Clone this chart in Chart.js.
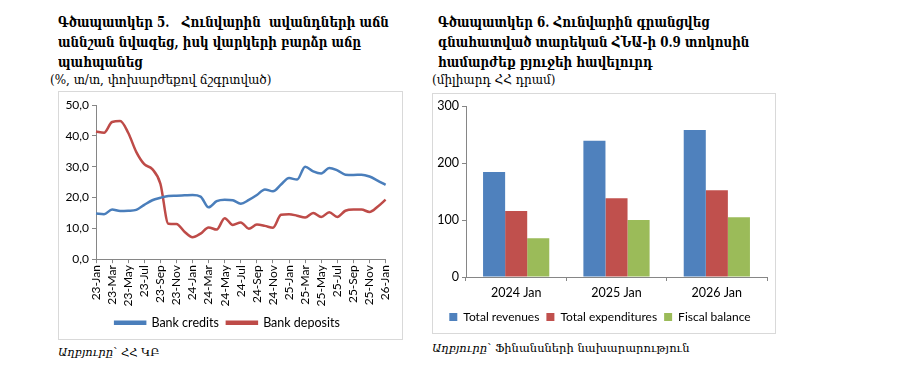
<!DOCTYPE html>
<html>
<head>
<meta charset="utf-8">
<script src="https://cdn.jsdelivr.net/npm/chart.js@4.4.1/dist/chart.umd.min.js"></script>
<style>
  body { margin: 0; width: 900px; height: 388px; background: #fff; position: relative; overflow: hidden; color: #000; }
  .title { position: absolute; font-family: "DejaVu Serif", serif; font-weight: bold; font-size: 14px; line-height: 20px; white-space: nowrap; transform: scaleX(0.85); transform-origin: left top; }
  .sub { position: absolute; font-family: "DejaVu Serif", serif; font-size: 12px; white-space: nowrap; }
  .box { position: absolute; border: 1px solid #d9d9d9; box-sizing: border-box; }
  .box canvas { position: absolute; left: 0; top: 0; }
  .src { position: absolute; font-family: "DejaVu Serif", serif; font-size: 11.5px; white-space: nowrap; }
</style>
</head>
<body>

<div class="title" style="left:58px; top:12px;">Գծապատկեր 5.&nbsp;&nbsp; Հունվարին&nbsp; ավանդների աճն<br>աննշան նվազեց, իսկ վարկերի բարձր աճը<br>պահպանեց</div>
<div class="sub" style="left:50px; top:73px;">(%, տ/տ, փոխարժեքով ճշգրտված)</div>
<div class="box" style="left:58px; top:91px; width:345px; height:249px;"><canvas id="lineChart" width="343" height="247"></canvas></div>
<div class="src" style="left:58px; top:345px;"><i>Աղբյուրը</i>՝ ՀՀ ԿԲ</div>

<div class="title" style="left:438px; top:12px;">Գծապատկեր 6. Հունվարին գրանցվեց<br>գնահատված տարեկան ՀՆԱ-ի 0.9 տոկոսին<br>համարժեք բյուջեի հավելուրդ</div>
<div class="sub" style="left:432px; top:73px;">(միլիարդ ՀՀ դրամ)</div>
<div class="box" style="left:432px; top:93px; width:344px; height:241px;"><canvas id="barChart" width="342" height="239"></canvas></div>
<div class="src" style="left:432px; top:341px;"><i>Աղբյուրը</i>՝ Ֆինանսների նախարարություն</div>

<script>
// monthly labels, 23-Jan .. 26-Jan
const months = [
  '23-Jan','23-Feb','23-Mar','23-Apr','23-May','23-Jun','23-Jul','23-Aug','23-Sep','23-Oct','23-Nov','23-Dec',
  '24-Jan','24-Feb','24-Mar','24-Apr','24-May','24-Jun','24-Jul','24-Aug','24-Sep','24-Oct','24-Nov','24-Dec',
  '25-Jan','25-Feb','25-Mar','25-Apr','25-May','25-Jun','25-Jul','25-Aug','25-Sep','25-Oct','25-Nov','25-Dec',
  '26-Jan'
];
const bankCredits = [
  14.8, 14.6, 16.1, 15.6, 15.7, 16.0, 17.6, 19.1, 19.9, 20.5, 20.6, 20.7,
  20.8, 20.3, 16.8, 18.8, 19.3, 19.1, 18.0, 19.2, 20.8, 22.6, 22.0, 24.2,
  26.3, 25.8, 30.0, 28.5, 27.8, 29.6, 28.8, 27.4, 27.3, 27.4, 26.8, 25.5,
  24.1
];
const bankDeposits = [
  41.4, 41.0, 44.5, 44.8, 41.0, 34.8, 30.8, 29.2, 24.5, 11.5, 11.4, 8.9,
  7.1, 8.3, 10.3, 9.6, 13.3, 11.1, 11.9, 9.9, 11.2, 10.8, 10.2, 14.4,
  14.6, 14.1, 13.5, 15.0, 13.7, 15.2, 13.7, 15.7, 16.1, 16.1, 15.3, 17.0,
  19.3
];

// budget, bln AMD
const years = ['2024 Jan', '2025 Jan', '2026 Jan'];
const totalRevenues = [184, 239, 258];
const totalExpenditures = [116, 138, 152];
const fiscalBalance = [68, 100, 105];

const tickFont = { family: 'Lato', size: 12 };
const axisGrey = '#868686';

// line chart
new Chart(document.getElementById('lineChart').getContext('2d'), {
  type: 'line',
  data: {
    labels: months,
    datasets: [
      { label: 'Bank credits', data: bankCredits, borderColor: '#4A7EBB', backgroundColor: '#4A7EBB',
        borderWidth: 2.5, pointRadius: 0, tension: 0.4, cubicInterpolationMode: 'monotone' },
      { label: 'Bank deposits', data: bankDeposits, borderColor: '#BE4B48', backgroundColor: '#BE4B48',
        borderWidth: 2.5, pointRadius: 0, tension: 0.4, cubicInterpolationMode: 'monotone' }
    ]
  },
  options: {
    responsive: false,
    animation: false,
    layout: { padding: { top: 13, right: 6, left: 0, bottom: 0 } },
    plugins: {
      legend: {
        position: 'bottom',
        labels: { boxWidth: 30, boxHeight: 2, color: '#000', font: { family: 'Lato', size: 12.5 }, padding: 8 }
      },
      tooltip: { enabled: false }
    },
    scales: {
      x: {
        grid: { drawOnChartArea: false, tickLength: 4, color: (c) => c.index % 2 === 0 ? axisGrey : 'rgba(0,0,0,0)' },
        border: { color: axisGrey },
        ticks: {
          autoSkip: false, maxRotation: 90, minRotation: 90, padding: 2, color: '#000', font: tickFont,
          callback: (v, i) => i % 2 === 0 ? months[i] : ''
        }
      },
      y: {
        min: 0, max: 50,
        grid: { drawOnChartArea: false, tickLength: 4, color: axisGrey },
        border: { color: axisGrey },
        ticks: { stepSize: 10, color: '#000', font: tickFont, callback: (v) => v.toFixed(1).replace('.', ',') },
        afterFit: (s) => { s.width = 37; }
      }
    }
  }
});

// bar chart
new Chart(document.getElementById('barChart').getContext('2d'), {
  type: 'bar',
  data: {
    labels: years,
    datasets: [
      { label: 'Total revenues', data: totalRevenues, backgroundColor: '#4F81BD' },
      { label: 'Total expenditures', data: totalExpenditures, backgroundColor: '#C0504D' },
      { label: 'Fiscal balance', data: fiscalBalance, backgroundColor: '#9BBB59' }
    ]
  },
  options: {
    responsive: false,
    animation: false,
    layout: { padding: { top: 12, right: 8, left: 0, bottom: 0 } },
    datasets: { bar: { categoryPercentage: 0.66, barPercentage: 1 } },
    plugins: {
      legend: {
        position: 'bottom',
        labels: { boxWidth: 8, boxHeight: 8, color: '#000', font: { family: 'Lato', size: 12 }, padding: 7 }
      },
      tooltip: { enabled: false }
    },
    scales: {
      x: {
        grid: { drawOnChartArea: false, tickLength: 4, color: axisGrey },
        border: { color: axisGrey },
        ticks: { color: '#000', font: { family: 'Lato', size: 12.5 }, padding: 4 }
      },
      y: {
        min: 0, max: 300,
        grid: { drawOnChartArea: false, tickLength: 4, color: axisGrey },
        border: { color: axisGrey },
        ticks: { stepSize: 100, color: '#000', font: { family: 'Lato', size: 12.5 } },
        afterFit: (s) => { s.width = 33; }
      }
    }
  }
});
</script>
</body>
</html>
